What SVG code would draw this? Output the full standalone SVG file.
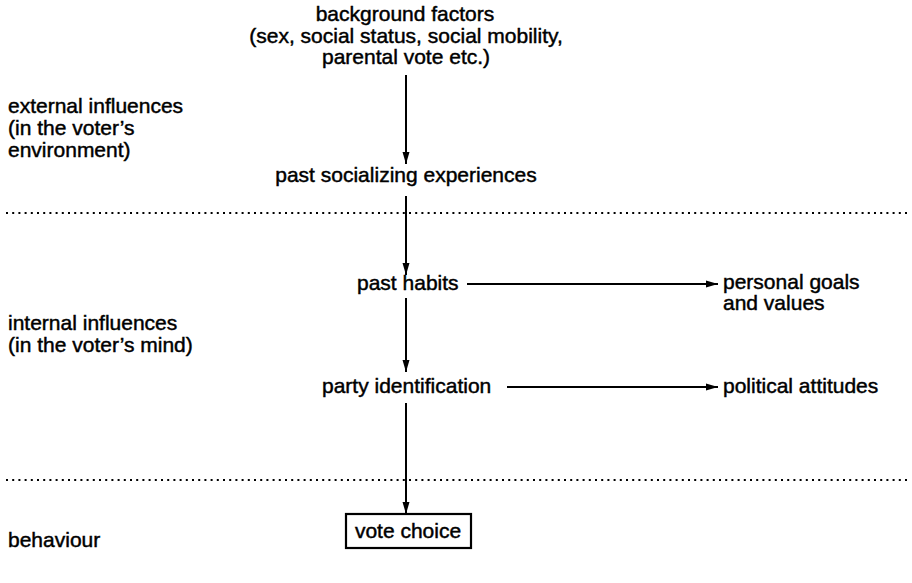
<svg xmlns="http://www.w3.org/2000/svg" width="912" height="583" viewBox="0 0 912 583">
<defs>
<marker id="ah" viewBox="0 0 12 10" refX="12" refY="5" markerWidth="12" markerHeight="10" markerUnits="userSpaceOnUse" orient="auto">
<path d="M0,1.5 L12,5 L0,8.5 Z" fill="#000"/>
</marker>
<style>
text{font-family:"Liberation Sans",Arial,sans-serif;font-size:21px;fill:#000;stroke:#000;stroke-width:0.45}
.c{text-anchor:middle}
.ln{stroke:#000;stroke-width:2;fill:none}
.dot{stroke:#000;stroke-width:2.2;stroke-dasharray:2 4.2;fill:none}
</style>
</defs>
<rect width="912" height="583" fill="#fff"/>
<g id="bands">
<line class="dot" x1="6" y1="213" x2="910" y2="213"/>
<line class="dot" x1="6" y1="480" x2="910" y2="480"/>
</g>
<g id="side-labels">
<text x="8" y="113">external influences</text>
<text x="8" y="135">(in the voter’s</text>
<text x="8" y="157">environment)</text>
<text x="8" y="330">internal influences</text>
<text x="8" y="352">(in the voter’s mind)</text>
<text x="8" y="547">behaviour</text>
</g>
<g id="connectors">
<line class="ln" x1="406" y1="75" x2="406" y2="164" marker-end="url(#ah)"/>
<line class="ln" x1="406" y1="196" x2="406" y2="275" marker-end="url(#ah)"/>
<line class="ln" x1="467" y1="284" x2="718" y2="284" marker-end="url(#ah)"/>
<line class="ln" x1="406" y1="298" x2="406" y2="372" marker-end="url(#ah)"/>
<line class="ln" x1="507" y1="387" x2="718" y2="387" marker-end="url(#ah)"/>
<line class="ln" x1="406" y1="403" x2="406" y2="514" marker-end="url(#ah)"/>
</g>
<g id="background-factors">
<text class="c" x="405" y="21">background factors</text>
<text class="c" x="406" y="43">(sex, social status, social mobility,</text>
<text class="c" x="406" y="64">parental vote etc.)</text>
</g>
<g id="past-socializing">
<text class="c" x="406" y="182">past socializing experiences</text>
</g>
<g id="past-habits">
<text x="357" y="290">past habits</text>
</g>
<g id="personal-goals">
<text x="723" y="289">personal goals</text>
<text x="723" y="310">and values</text>
</g>
<g id="party-identification">
<text x="322" y="393">party identification</text>
</g>
<g id="political-attitudes">
<text x="723" y="393">political attitudes</text>
</g>
<g id="vote-choice">
<rect x="346" y="514" width="125" height="34" fill="#fff" stroke="#000" stroke-width="2.2"/>
<text class="c" x="408" y="538">vote choice</text>
</g>
</svg>
